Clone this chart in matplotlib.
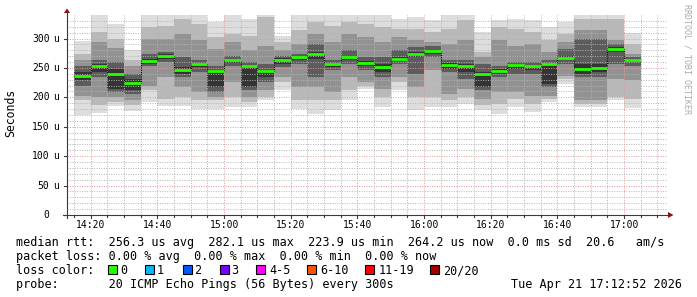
import matplotlib
matplotlib.use("Agg")
import matplotlib.pyplot as plt
import matplotlib.dates as mdates
from matplotlib.lines import Line2D
from matplotlib.patches import Rectangle, Polygon
import pandas as pd
import numpy as np

# ---------------- data (microseconds) ----------------
step_end = pd.date_range("2026-04-21 14:20", periods=34, freq="5min")
x_start = pd.Timestamp("2026-04-21 14:12:52")
x_end = pd.Timestamp("2026-04-21 17:12:52")

median_us = [235.6, 252.6, 240.2, 223.9, 261.6, 270.1, 246.9, 256.0, 244.1, 262.8,
             252.6, 244.1, 263.9, 268.4, 273.5, 256.5, 268.4, 258.2, 251.5, 264.4,
             273.5, 278.6, 254.8, 253.1, 240.2, 245.2, 254.8, 252.6, 256.5, 266.7,
             247.5, 249.2, 282.1, 264.2]

# smoke layer bounds, outermost (1) to innermost (5)
top1 = [296, 345, 325, 280, 345, 345, 345, 345, 328, 345, 333, 345, 305, 345, 345, 345, 345,
        345, 345, 333, 336, 331, 345, 345, 311, 331, 333, 331, 319, 328, 345, 345, 345, 309]
top2 = [274, 311, 300, 263, 319, 322, 333, 325, 302, 308, 305, 336, 294, 314, 328, 322, 328,
        325, 319, 316, 316, 311, 316, 331, 277, 319, 316, 311, 297, 308, 333, 333, 333, 291]
top3 = [263, 294, 284, 254, 300, 300, 308, 297, 283, 294, 280, 288, 280, 291, 308, 294, 308,
        302, 294, 302, 297, 294, 291, 297, 268, 297, 288, 291, 277, 294, 314, 314, 297, 274]
top4 = [254, 263, 260, 240, 274, 277, 268, 264, 254, 271, 260, 257, 271, 274, 291, 263, 280,
        268, 268, 280, 285, 288, 263, 263, 257, 254, 260, 260, 263, 283, 300, 300, 291, 268]
top5 = [243, 257, 249, 232, 266, 273, 252, 258, 246, 266, 255, 247, 267, 271, 277, 259, 271,
        262, 257, 268, 277, 281, 258, 257, 243, 249, 257, 255, 257, 271, 257, 257, 285, 266]
bot5 = [229, 243, 215, 212, 257, 266, 240, 252, 218, 258, 218, 235, 257, 263, 266, 252, 263,
        253, 243, 262, 268, 274, 249, 243, 218, 240, 249, 246, 223, 263, 240, 243, 277, 260]
bot4 = [220, 235, 209, 206, 253, 260, 235, 243, 209, 253, 212, 226, 252, 257, 235, 246, 257,
        246, 235, 257, 240, 268, 243, 232, 212, 235, 240, 240, 218, 257, 235, 235, 257, 254]
bot3 = [203, 201, 201, 195, 220, 235, 218, 209, 201, 226, 201, 212, 235, 218, 218, 209, 235,
        226, 215, 235, 218, 246, 206, 215, 198, 209, 209, 203, 203, 237, 195, 195, 232, 229]
bot2 = [195, 187, 192, 187, 212, 198, 201, 195, 195, 201, 192, 201, 226, 195, 195, 195, 212,
        220, 201, 226, 201, 201, 195, 201, 187, 189, 198, 189, 198, 232, 189, 189, 201, 198]
bot1 = [170, 174, 185, 177, 192, 185, 185, 181, 181, 184, 184, 196, 212, 181, 172, 178, 195,
        215, 184, 212, 178, 184, 184, 189, 178, 172, 184, 175, 192, 223, 184, 184, 195, 182]

y_ticks = [0, 50, 100, 150, 200, 250, 300]
x_tick_labels = ["14:20", "14:40", "15:00", "15:20", "15:40", "16:00", "16:20", "16:40", "17:00"]
loss_labels = ["0", "1", "2", "3", "4-5", "6-10", "11-19", "20/20"]
loss_colors = ["#26ff00", "#00b8ff", "#0059ff", "#7e00ff", "#ff00ff", "#ff5500", "#ff0000", "#a10000"]

legend_line1 = "median rtt:  256.3 us avg  282.1 us max  223.9 us min  264.2 us now  0.0 ms sd  20.6   am/s"
legend_line2 = "packet loss: 0.00 % avg  0.00 % max  0.00 % min  0.00 % now"
legend_line4 = "probe:       20 ICMP Echo Pings (56 Bytes) every 300s"
stamp = "Tue Apr 21 17:12:52 2026"

# ---------------- figure ----------------
W, H = 697, 297
fig = plt.figure(figsize=(W / 100, H / 100), dpi=100)
fig.patch.set_facecolor("white")


def fx(px):
    return px / W


def fy(py):
    return 1 - py / H


MONO = "DejaVu Sans Mono"
ax = fig.add_axes([fx(67), fy(215), 600 / W, 200 / H])
ax.axis("off")
ax.set_xlim(mdates.date2num(x_start), mdates.date2num(x_end))
ax.set_ylim(0, 340)

ends = mdates.date2num(step_end.to_pydatetime())
step = 5 / 1440.0
starts = ends - step

layers = [(top1, bot1, "#dddddd"), (top2, bot2, "#b9b9b9"), (top3, bot3, "#929292"),
          (top4, bot4, "#5c5c5c"), (top5, bot5, "#343434")]
for hi, lo, col in layers:
    hi = np.array(hi, float)
    lo = np.array(lo, float)
    ax.bar(starts, hi - lo, bottom=lo, width=step, align="edge", color=col,
           linewidth=0, zorder=1)

# grid (drawn over the smoke, like rrdtool)
minor_col, major_col = "#b4b4b4", "#e39a9a"
dots = (0, (1, 1.5))
for v in range(10, 340, 10):
    major = v % 50 == 0
    ax.axhline(v, color=major_col if major else minor_col, lw=0.7, ls=dots, zorder=2)
vt = pd.date_range("2026-04-21 14:15", "2026-04-21 17:10", freq="5min")
for t in vt:
    major = t.minute % 20 == 0
    ax.axvline(mdates.date2num(t.to_pydatetime()), color=major_col if major else minor_col,
               lw=0.7, ls=dots, zorder=2)

# median
edges = np.append(starts, ends[-1])
ax.stairs(median_us, edges, baseline=None, color="black", lw=0.8, ls=(0, (1, 1)), zorder=3)
ax.hlines(median_us, starts, ends, colors="#26ff00", linewidth=2.0, zorder=4, capstyle="butt")

# ---------------- axes lines & arrows ----------------
axis_col = "#3a3a3a"
arrow_col = "#8b1010"
fig.add_artist(Line2D([fx(67), fx(67)], [fy(218), fy(12)], color=axis_col, lw=0.8,
                      transform=fig.transFigure))
fig.add_artist(Line2D([fx(63), fx(668)], [fy(215), fy(215)], color=axis_col, lw=0.8,
                      transform=fig.transFigure))
fig.add_artist(Polygon([[fx(67), fy(8.5)], [fx(64), fy(13)], [fx(70), fy(13)]], closed=True,
                       color=arrow_col, transform=fig.transFigure, lw=0))
fig.add_artist(Polygon([[fx(673.5), fy(215)], [fx(668), fy(212)], [fx(668), fy(218)]],
                       closed=True, color=arrow_col, transform=fig.transFigure, lw=0))

# y ticks & labels
for v in y_ticks:
    ypx = 215 - v * 200 / 340
    fig.add_artist(Line2D([fx(64), fx(67)], [fy(ypx), fy(ypx)], color=axis_col, lw=0.8,
                          transform=fig.transFigure))
    fig.text(fx(49.5), fy(ypx), str(v), ha="right", va="center", family=MONO, fontsize=7,
             color="#000000")
    if v:
        fig.text(fx(53.5), fy(ypx), "u", ha="left", va="center", family=MONO, fontsize=7,
                 color="#000000")

# x ticks & labels
x0, x1 = mdates.date2num(x_start), mdates.date2num(x_end)
for t in vt:
    xn = mdates.date2num(t.to_pydatetime())
    xpx = 67 + (xn - x0) / (x1 - x0) * 600
    major = t.minute % 20 == 0
    fig.add_artist(Line2D([fx(xpx), fx(xpx)], [fy(215), fy(218 if major else 217)],
                          color=axis_col, lw=0.8, transform=fig.transFigure))
for lab in x_tick_labels:
    t = pd.Timestamp("2026-04-21 " + lab)
    xn = mdates.date2num(t.to_pydatetime())
    xpx = 67 + (xn - x0) / (x1 - x0) * 600
    fig.text(fx(xpx), fy(225), lab, ha="center", va="center", family=MONO, fontsize=7,
             color="#000000")

fig.text(fx(11), fy(113), "Seconds", rotation=90, ha="center", va="center", family=MONO,
         fontsize=8.3, color="#000000")
fig.text(fx(687), fy(4), "RRDTOOL / TOBI OETIKER", rotation=270, ha="center", va="top",
         family=MONO, fontsize=6, color="#aaaaaa")

# ---------------- legend ----------------
LFS = 8.5
base = [245.7, 259.9, 274.1, 288.3]
fig.text(fx(15.5), fy(base[0]), legend_line1, ha="left", va="baseline", family=MONO, fontsize=LFS)
fig.text(fx(15.5), fy(base[1]), legend_line2, ha="left", va="baseline", family=MONO, fontsize=LFS)
fig.text(fx(15.5), fy(base[2]), "loss color:", ha="left", va="baseline", family=MONO, fontsize=LFS)
box_x = [108, 145, 182.5, 219.5, 256, 306.5, 365, 430]
text_x = [120.7, 157, 194.5, 231.5, 269, 320, 378.5, 443.5]
for bx, tx, lab, col in zip(box_x, text_x, loss_labels, loss_colors):
    fig.add_artist(Rectangle((fx(bx), fy(274)), 9 / W, 9 / H, facecolor=col, edgecolor="black",
                             lw=0.8, transform=fig.transFigure))
    fig.text(fx(tx), fy(base[2]), lab, ha="left", va="baseline", family=MONO, fontsize=LFS)
fig.text(fx(15.5), fy(base[3]), legend_line4, ha="left", va="baseline", family=MONO, fontsize=LFS)
fig.text(fx(682), fy(base[3]), stamp, ha="right", va="baseline", family=MONO, fontsize=LFS)

fig.savefig("out.png", dpi=100, facecolor="white")
